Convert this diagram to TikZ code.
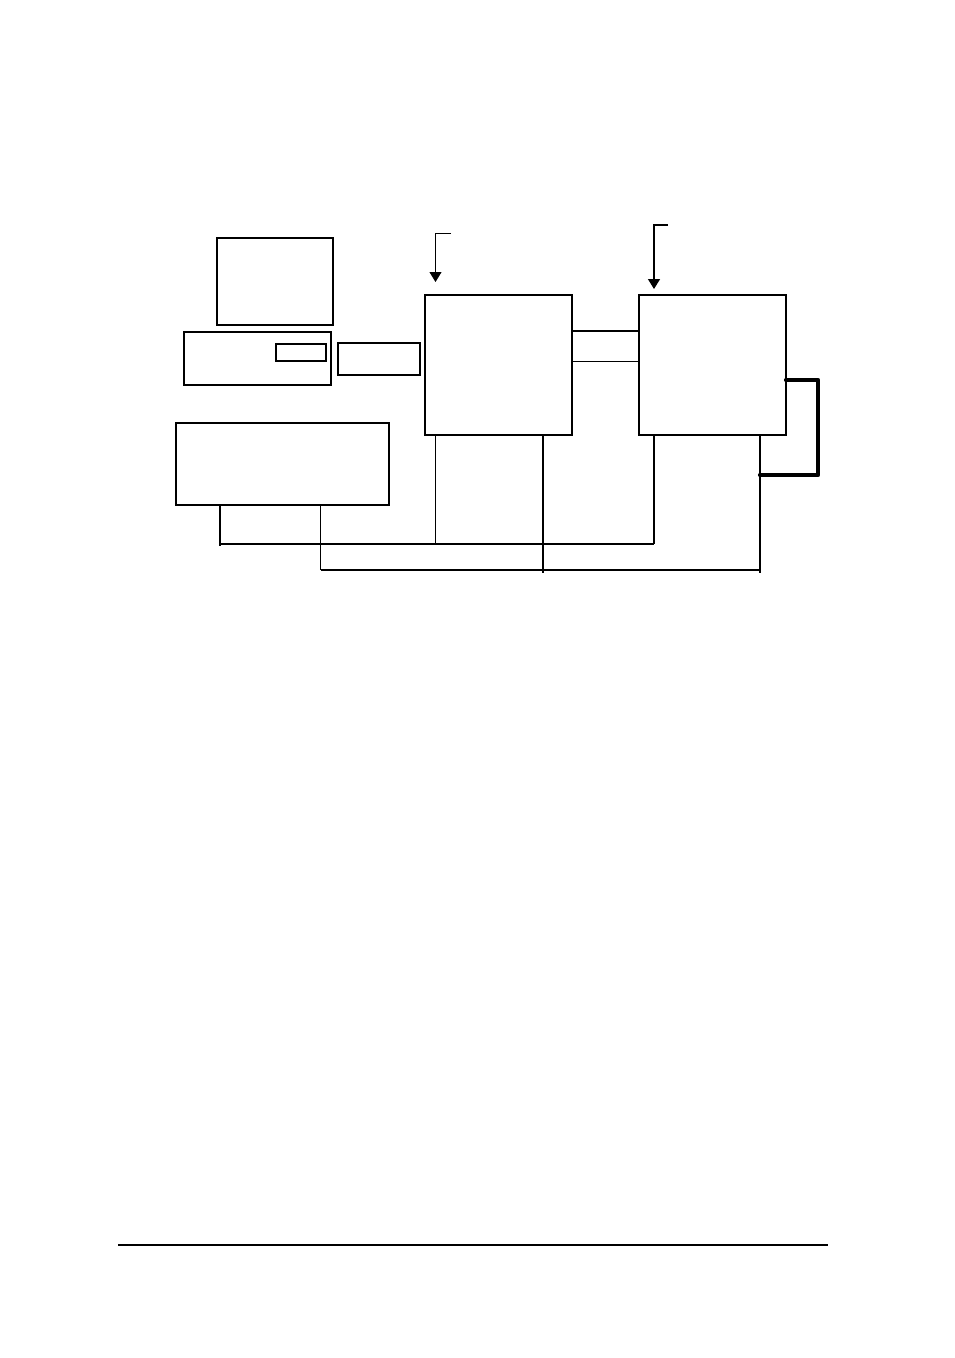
\documentclass[tikz,border=0pt]{standalone}
\usetikzlibrary{arrows.meta,calc}
\begin{document}
\begin{tikzpicture}[x=1pt,y=-1pt,
  box/.style={draw,line width=1.5pt,inner sep=0pt,outer sep=0pt,anchor=north west},
  thinbox/.style={box,line width=1.1pt},
  wire/.style={line width=1.3pt},
  thinwire/.style={line width=0.9pt},
  heavy/.style={line width=4.2pt,line cap=round,line join=round},
  feed/.style={-{Triangle[length=10pt,width=12pt]}}]
\useasboundingbox[fill=white] (0,0) rectangle (954,1358);
% boxes
\node[box,minimum width=116pt,minimum height=87pt] (mon) at (217,238) {};
\node[thinbox,minimum width=147pt,minimum height=53pt] (base) at (184,332) {};
\node[thinbox,minimum width=50pt,minimum height=17pt] (drive) at (276,344) {};
\node[box,minimum width=82pt,minimum height=32pt] (mid) at (338,343) {};
\node[box,minimum width=147pt,minimum height=140pt] (A) at (425,295) {};
\node[box,minimum width=147pt,minimum height=140pt] (B) at (639,295) {};
\node[box,minimum width=213pt,minimum height=82pt] (L) at (176,423) {};
% coordinates
\coordinate (d1) at (220,546);
\coordinate (d2) at (320.5,570);
\coordinate (d3) at (435.5,544);
\coordinate (d4) at (543,573);
\coordinate (d5) at (654,544);
\coordinate (d6) at (760,573);
\coordinate (c1) at (0,331);
\coordinate (c2) at (0,361);
\coordinate (f1) at (451,233);
\coordinate (f2) at (668,225);
\coordinate (h1) at (818,380);
\coordinate (h2) at (818,475);
\coordinate (r1) at (118,1245);
\coordinate (r2) at (828,1245);
% links between A and B
\draw[wire] (A.east |- c1) -- (B.west |- c1);
\draw[thinwire] (A.east |- c2) -- (B.west |- c2);
% drops
\draw[wire] (L.south -| d1) -- (d1);
\draw[wire] (L.south -| d2) -- (d2);
\draw[thinwire] (A.south -| d3) -- (d3);
\draw[wire] (A.south -| d4) -- (d4);
\draw[wire] (B.south -| d5) -- (d5);
\draw[wire] (B.south -| d6) -- (d6);
% buses
\draw[wire] (d1 |- d3) -- (d5);
\draw[wire] (d2) -- (d6 |- d2);
% feed arrows
\draw[thinwire,feed,shorten >=13pt] (f1) -- (f1 -| d3) -- (A.north -| d3);
\draw[wire,feed,shorten >=6pt] (f2) -- (f2 -| d5) -- (B.north -| d5);
% heavy bracket
\draw[heavy] (B.east |- h1) -- (h1) -- (h2) -- (d6 |- h2);
% bottom rule
\draw[line width=2.2pt] (r1) -- (r2);
\end{tikzpicture}
\end{document}
